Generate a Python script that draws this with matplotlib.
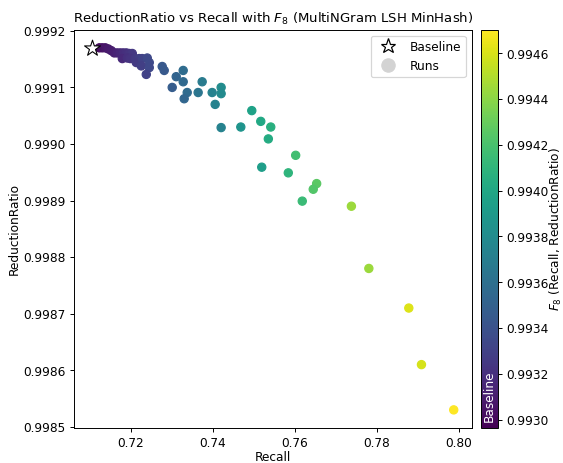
import numpy as np
import matplotlib
matplotlib.use("Agg")
import matplotlib.pyplot as plt
from matplotlib.colors import Normalize
from matplotlib.lines import Line2D
from matplotlib.ticker import FormatStrFormatter

baseline_recall = 0.7105
baseline_rr = 0.99917

recall = [0.71228, 0.71301, 0.71374, 0.71447, 0.71520, 0.71593, 0.71666, 0.71739,
          0.71812, 0.71886, 0.71959, 0.72032, 0.71788, 0.71910, 0.71983, 0.72105,
          0.72202, 0.72129, 0.72275, 0.72397, 0.72446, 0.72251, 0.72446, 0.72373,
          0.72762, 0.72811, 0.73104, 0.73274, 0.73274, 0.73006, 0.73372, 0.73298,
          0.73639, 0.73737, 0.73981, 0.74200, 0.74200, 0.74054, 0.74200, 0.74680,
          0.74948, 0.75167, 0.75411, 0.75352, 0.76019, 0.75191, 0.75839, 0.76531,
          0.76448, 0.76180, 0.77379, 0.77805, 0.78780, 0.79089, 0.79876]
reduction_ratio = [0.999170, 0.999170, 0.999170, 0.999168, 0.999165, 0.999161, 0.999161, 0.999161,
                   0.999161, 0.999161, 0.999160, 0.999160, 0.999151, 0.999152, 0.999151, 0.999151,
                   0.999151, 0.999144, 0.999151, 0.999152, 0.999144, 0.999138, 0.999135, 0.999123,
                   0.999137, 0.999130, 0.999119, 0.999130, 0.999110, 0.999100, 0.999091, 0.999080,
                   0.999091, 0.999110, 0.999091, 0.999100, 0.999089, 0.999070, 0.999029, 0.999030,
                   0.999059, 0.999040, 0.999030, 0.999009, 0.998980, 0.998959, 0.998949, 0.998930,
                   0.998920, 0.998899, 0.998890, 0.998780, 0.998710, 0.998610, 0.998530]

beta = 8.0

def fbeta(rec, rr, b=beta):
    rec = np.asarray(rec); rr = np.asarray(rr)
    return (1 + b**2) * rec * rr / (b**2 * rec + rr)

f_runs = fbeta(recall, reduction_ratio)
f_base = float(fbeta(baseline_recall, baseline_rr))

vmin = min(f_runs.min(), f_base)
vmax = max(f_runs.max(), f_base)
norm = Normalize(vmin=vmin, vmax=vmax)

DPI = 87
fig = plt.figure(figsize=(563 / DPI, 463.3 / DPI), dpi=DPI)
ax = fig.add_axes([0.1314, 0.0756, 0.7066, 0.8596])
cax = fig.add_axes([0.8544, 0.0756, 0.0300, 0.8596])

sc = ax.scatter(recall, reduction_ratio, c=f_runs, cmap="viridis", norm=norm, s=46, zorder=2)
ax.scatter([baseline_recall], [baseline_rr], marker="*", s=190, facecolor="white",
           edgecolor="black", linewidth=0.9, zorder=3)

ax.set_xlabel("Recall", labelpad=1)
ax.set_ylabel("ReductionRatio", labelpad=2)
ax.set_title("ReductionRatio vs Recall with $F_{8}$ (MultiNGram LSH MinHash)", fontsize=11)
ax.yaxis.set_major_formatter(FormatStrFormatter("%.4f"))
ax.xaxis.set_major_formatter(FormatStrFormatter("%.2f"))

handles = [
    Line2D([0], [0], marker="*", linestyle="", markersize=13, markerfacecolor="white",
           markeredgecolor="black", label="Baseline"),
    Line2D([0], [0], marker="o", linestyle="", markersize=11, markerfacecolor="lightgray",
           markeredgecolor="lightgray", label="Runs"),
]
ax.legend(handles=handles, loc="upper right")

cb = fig.colorbar(sc, cax=cax)
cb.set_label("$F_{8}$ (Recall, ReductionRatio)", labelpad=-1)
cb.ax.yaxis.set_major_formatter(FormatStrFormatter("%.4f"))
cb.ax.text(0.5, f_base + (vmax - vmin) * 0.015, "Baseline", rotation=90, color="white",
           ha="center", va="bottom", transform=cb.ax.transData)

fig.savefig("out.png", dpi=DPI)
